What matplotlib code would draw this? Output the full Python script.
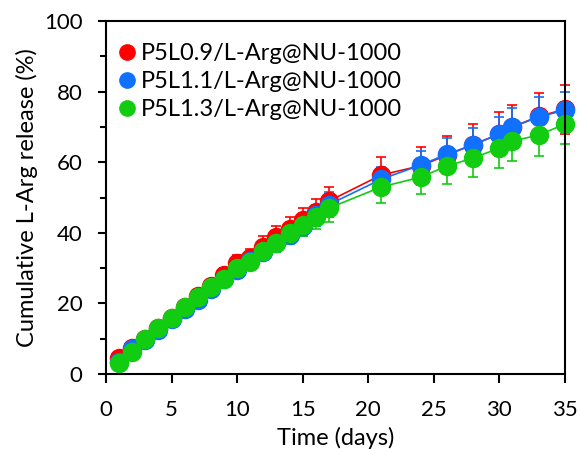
import matplotlib
matplotlib.use("Agg")
import matplotlib.pyplot as plt
from matplotlib.lines import Line2D
from matplotlib.ticker import MultipleLocator

plt.rcParams['font.family'] = ['Lato', 'DejaVu Sans']

days = [1, 2, 3, 4, 5, 6, 7, 8, 9, 10, 11, 12, 13, 14, 15, 16, 17, 21, 24, 26, 28, 30, 31, 33, 35]
red = [4.5, 7.5, 10, 13, 16, 19, 22, 25, 28, 31.5, 33, 36, 38.8, 41, 43.5, 46, 49, 56.4, 59, 62, 65, 68, 70, 73, 75]
blue = [3.5, 7, 9.5, 12.5, 15.5, 18.5, 21, 24, 27, 29.5, 32, 34.5, 37, 39.5, 42, 45, 48, 55.2, 59.2, 62.3, 64.9, 68, 70, 72.8, 74.8]
green = [3.1, 6.2, 9.9, 13, 16, 19, 21.8, 24.6, 27, 30, 31.8, 34.8, 37, 39.9, 42.2, 44.5, 47, 53, 55.8, 58.9, 61.2, 64, 66, 67.7, 70.8]
red_err = [1, 1, 1, 1, 1, 1, 1, 1.5, 2, 2.2, 2.5, 3, 3, 3.5, 3.5, 3.5, 4, 5, 5.3, 5.4, 5.8, 6.2, 6.2, 6.6, 6.9]
blue_err = [1, 1, 1, 1, 1, 1, 1, 1.5, 1.5, 2, 2, 2, 2.5, 2.5, 3, 3, 3.5, 3.6, 4, 4.5, 4.7, 4.8, 5.5, 5.7, 5.2]
green_err = [1, 1, 1, 1, 1, 1, 1, 1.5, 1.5, 2, 2, 2.5, 2.5, 3, 3.2, 3.5, 4, 4.6, 4.7, 5, 5.5, 5.7, 5.5, 6, 5.6]
labels = ['P5L0.9/L-Arg@NU-1000', 'P5L1.1/L-Arg@NU-1000', 'P5L1.3/L-Arg@NU-1000']
colors = ['#ff0000', '#1070ff', '#11cc11']

fig = plt.figure(figsize=(5.8, 4.49), dpi=100)
ax = fig.add_axes([0.1828, 0.167, 0.791, 0.786])

for y, e, c in zip([red, blue, green], [red_err, blue_err, green_err], colors):
    ax.errorbar(days, y, yerr=e, color=c, marker='o', markersize=13, lw=1.2,
                elinewidth=1.2, capsize=3.5, capthick=1.2, clip_on=False)

handles = [Line2D([], [], ls='none', marker='o', color=c, markersize=11) for c in colors]
ax.legend(handles, labels, loc='upper left', bbox_to_anchor=(-0.015, 0.985), frameon=False,
          fontsize=17, handletextpad=0.05, labelspacing=0.3, handlelength=1.0,
          borderaxespad=0.3)

ax.set_xlim(0, 35)
ax.set_ylim(0, 100)
ax.set_xticks(range(0, 36, 5))
ax.set_yticks(range(0, 101, 20))
ax.yaxis.set_minor_locator(MultipleLocator(10))
ax.tick_params(axis='x', labelsize=16, width=1.5, length=6.5, pad=12)
ax.tick_params(axis='y', labelsize=16, width=1.5, length=6, pad=11)
ax.tick_params(axis='y', which='minor', width=1.5, length=4.5)
for s in ax.spines.values():
    s.set_linewidth(1.5)
ax.set_xlabel('Time (days)', fontsize=17, labelpad=5)
ax.set_ylabel('Cumulative L-Arg release (%)', fontsize=17, labelpad=4)

fig.savefig('out.png', dpi=100)
